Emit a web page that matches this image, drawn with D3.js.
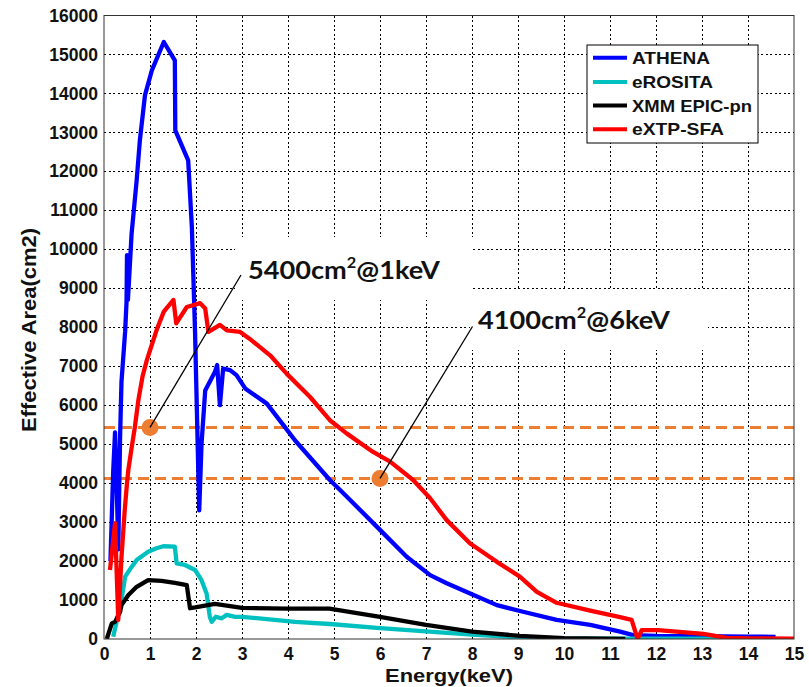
<!DOCTYPE html>
<html>
<head>
<meta charset="utf-8">
<script src="https://cdn.jsdelivr.net/npm/d3@7"></script>
<style>
  body { margin: 0; background: #fff; }
  svg { display: block; }
</style>
</head>
<body>
<svg id="chart" width="809" height="687"></svg>
<script>
// ---------- data ----------
const xTicks = [0,1,2,3,4,5,6,7,8,9,10,11,12,13,14,15];
const yTicks = [0,1000,2000,3000,4000,5000,6000,7000,8000,9000,10000,11000,12000,13000,14000,15000,16000];

const seriesNames = ["ATHENA", "eROSITA", "XMM EPIC-pn", "eXTP-SFA"];
const seriesColors = ["#0000ff", "#00c0c0", "#000000", "#ff0000"];

const athenaE = [0.14,0.2,0.24,0.28,0.31,0.35,0.38,0.46,0.49,0.5,0.52,0.6,0.71,0.78,0.89,1.04,1.3,1.54,1.55,1.83,1.91,1.98,2.07,2.12,2.2,2.41,2.46,2.52,2.59,2.74,2.88,3.07,3.54,3.9,4.15,4.91,5.28,6.0,6.58,7.09,7.45,7.96,8.54,9.11,9.84,10.57,11.22,11.5,12,13,14,14.6];
const athenaA = [2000,4300,5300,3800,2300,5200,6600,7900,8650,9850,8700,10400,11770,12800,13950,14590,15320,14850,13050,12280,10570,7850,3300,5000,6380,6850,7030,6000,6940,6900,6770,6430,6040,5490,5100,4080,3650,2800,2110,1640,1430,1170,870,700,490,360,190,100,80,70,60,55];

const erositaE = [0.2,0.38,0.46,0.6,0.71,0.96,1.14,1.29,1.54,1.58,1.76,1.98,2.12,2.23,2.3,2.34,2.43,2.56,2.67,2.85,3.0,4.15,4.91,6.0,7.0,8.0,9.0,10.0,11.3,13.35];
const erositaA = [60,1000,1600,1850,2030,2240,2330,2380,2370,1940,1900,1770,1510,1170,570,440,570,530,620,570,570,440,385,280,195,110,45,15,10,10];

const xmmE = [0.06,0.17,0.24,0.35,0.38,0.53,0.71,0.96,1.25,1.54,1.8,1.87,1.98,2.41,3.0,4.0,4.9,6.0,7.0,8.0,9.04,10.0,11.33];
const xmmA = [0,400,440,700,870,1130,1340,1510,1490,1440,1380,790,810,900,800,780,780,570,360,190,80,20,0];

const extpE = [0.13,0.24,0.31,0.38,0.45,0.5,0.53,0.6,0.67,0.75,0.84,0.93,1.04,1.15,1.3,1.51,1.57,1.8,2.09,2.2,2.27,2.52,2.67,2.96,3.17,3.61,3.97,4.48,4.91,5.28,5.85,6.22,6.72,7.09,7.45,7.96,8.54,9.04,9.41,9.84,10.57,11.22,11.47,11.6,11.69,12.05,13.03,13.54,14.0,15.0];
const extpA = [1770,2970,490,2100,3300,4000,4350,4900,5430,6150,6750,7150,7550,7950,8400,8700,8100,8520,8620,8480,7880,8060,7920,7880,7700,7280,6810,6210,5615,5270,4800,4550,4080,3610,3050,2450,1980,1600,1210,930,730,560,490,0,230,230,130,30,15,10];

const levelValues = [5430, 4120];          // dashed reference levels
const markerE = [1, 6];                    // annotated energies
const annotationTexts = [["5400cm", "2", "@1keV"], ["4100cm", "2", "@6keV"]];

// ---------- layout ----------
const svg = d3.select("#chart");
const x = d3.scaleLinear().domain([0, 15]).range([104, 794]);
const y = d3.scaleLinear().domain([0, 16000]).range([639, 15.5]);

const series = [
  { name: seriesNames[0], color: seriesColors[0], e: athenaE, a: athenaA },
  { name: seriesNames[1], color: seriesColors[1], e: erositaE, a: erositaA },
  { name: seriesNames[2], color: seriesColors[2], e: xmmE, a: xmmA },
  { name: seriesNames[3], color: seriesColors[3], e: extpE, a: extpA }
];

svg.append("defs").append("clipPath").attr("id", "plotclip")
  .append("rect").attr("x", x(0)).attr("y", y(16000))
  .attr("width", x(15) - x(0)).attr("height", y(0) - y(16000));

// grid
const grid = svg.append("g").attr("stroke", "#000").attr("stroke-width", 1)
  .attr("stroke-dasharray", "2,2.5").attr("shape-rendering", "crispEdges");
grid.selectAll("line.vx").data(xTicks.slice(1, -1)).join("line")
  .attr("x1", d => Math.round(x(d)) + 0.5).attr("x2", d => Math.round(x(d)) + 0.5)
  .attr("y1", y(16000)).attr("y2", y(0));
grid.selectAll("line.hy").data(yTicks.slice(1, -1)).join("line")
  .attr("x1", x(0)).attr("x2", x(15))
  .attr("y1", d => Math.round(y(d)) + 0.5).attr("y2", d => Math.round(y(d)) + 0.5);

// white label boxes (cover grid behind annotation texts)
const boxes = [
  { x0: 235, y0: 237, x1: 473, y1: 300 },
  { x0: 470, y0: 290, x1: 708, y1: 350 }
];
svg.append("g").selectAll("rect").data(boxes).join("rect")
  .attr("x", d => d.x0).attr("y", d => d.y0)
  .attr("width", d => d.x1 - d.x0).attr("height", d => d.y1 - d.y0)
  .attr("fill", "#fff");

// dashed orange levels
svg.append("g").selectAll("line").data(levelValues).join("line")
  .attr("x1", x(0)).attr("x2", x(15))
  .attr("y1", d => y(d)).attr("y2", d => y(d))
  .attr("stroke", "#ED7D31").attr("stroke-width", 3)
  .attr("stroke-dasharray", "11,6");

// curves
const line = d3.line().x(d => x(d[0])).y(d => y(d[1]));
svg.append("g").attr("clip-path", "url(#plotclip)")
  .selectAll("path").data(series).join("path")
  .attr("d", s => line(s.e.map((v, i) => [v, s.a[i]])))
  .attr("fill", "none").attr("stroke", s => s.color)
  .attr("stroke-width", 4.3).attr("stroke-linejoin", "round").attr("stroke-linecap", "butt");

// frame
svg.append("rect").attr("x", x(0)).attr("y", y(16000))
  .attr("width", x(15) - x(0)).attr("height", y(0) - y(16000))
  .attr("fill", "none").attr("stroke", "#333").attr("stroke-width", 1);

// axes
const fontAxis = "'Liberation Sans', Arial, Helvetica, sans-serif";
const xAxis = svg.append("g").attr("transform", `translate(0,${y(0)})`)
  .call(d3.axisBottom(x).tickValues(xTicks).tickFormat(d3.format("d")).tickSize(0).tickPadding(9));
const yAxis = svg.append("g").attr("transform", `translate(${x(0)},0)`)
  .call(d3.axisLeft(y).tickValues(yTicks).tickFormat(d3.format("d")).tickSize(0).tickPadding(6));
[xAxis, yAxis].forEach(g => {
  g.select(".domain").remove();
  g.selectAll("text").attr("font-family", fontAxis).attr("font-weight", "bold")
    .attr("font-size", 17.5).attr("fill", "#111");
});

// axis titles
svg.append("text").attr("x", 449).attr("y", 682).attr("text-anchor", "middle")
  .attr("font-family", fontAxis).attr("font-weight", "bold").attr("font-size", 19)
  .attr("textLength", 128).attr("lengthAdjust", "spacingAndGlyphs")
  .attr("fill", "#111").text("Energy(keV)");
svg.append("text").attr("transform", "translate(36,330) rotate(-90)").attr("text-anchor", "middle")
  .attr("font-family", fontAxis).attr("font-weight", "bold").attr("font-size", 20)
  .attr("textLength", 204).attr("lengthAdjust", "spacingAndGlyphs")
  .attr("fill", "#111").text("Effective Area(cm2)");

// markers and leaders
const leaderEnds = [[241, 275], [472.5, 326.5]];
const marks = svg.append("g");
markerE.forEach((e, i) => {
  marks.append("circle").attr("cx", x(e)).attr("cy", y(levelValues[i])).attr("r", 8.5)
    .attr("fill", "#ED7D31");
  marks.append("line").attr("x1", x(e)).attr("y1", y(levelValues[i]))
    .attr("x2", leaderEnds[i][0]).attr("y2", leaderEnds[i][1])
    .attr("stroke", "#000").attr("stroke-width", 1.3);
});

// annotation texts
const annPos = [[248, 278.5], [478, 328.5]];
annotationTexts.forEach((parts, i) => {
  const t = svg.append("text").attr("x", annPos[i][0]).attr("y", annPos[i][1])
    .attr("font-family", "Lato, 'Open Sans', sans-serif").attr("font-weight", "bold")
    .attr("font-size", 25).attr("fill", "#111")
    .attr("textLength", 192).attr("lengthAdjust", "spacingAndGlyphs");
  t.append("tspan").text(parts[0]);
  t.append("tspan").attr("font-size", 15).attr("dy", -11).text(parts[1]);
  t.append("tspan").attr("dy", 11).text(parts[2]);
});

// legend
const lg = svg.append("g");
lg.append("rect").attr("x", 587).attr("y", 45).attr("width", 171).attr("height", 98)
  .attr("fill", "#fff").attr("stroke", "#000").attr("stroke-width", 1);
const legendY = [57.7, 82, 105.5, 129.3];
const legendW = [78, 81, 120, 92];
series.forEach((s, i) => {
  lg.append("line").attr("x1", 593).attr("x2", 627)
    .attr("y1", legendY[i]).attr("y2", legendY[i])
    .attr("stroke", s.color).attr("stroke-width", 4);
  lg.append("text").attr("x", 632).attr("y", legendY[i] + 6)
    .attr("font-family", fontAxis).attr("font-weight", "bold").attr("font-size", 16.5)
    .attr("textLength", legendW[i]).attr("lengthAdjust", "spacingAndGlyphs")
    .attr("fill", "#111").text(s.name);
});
</script>
</body>
</html>
